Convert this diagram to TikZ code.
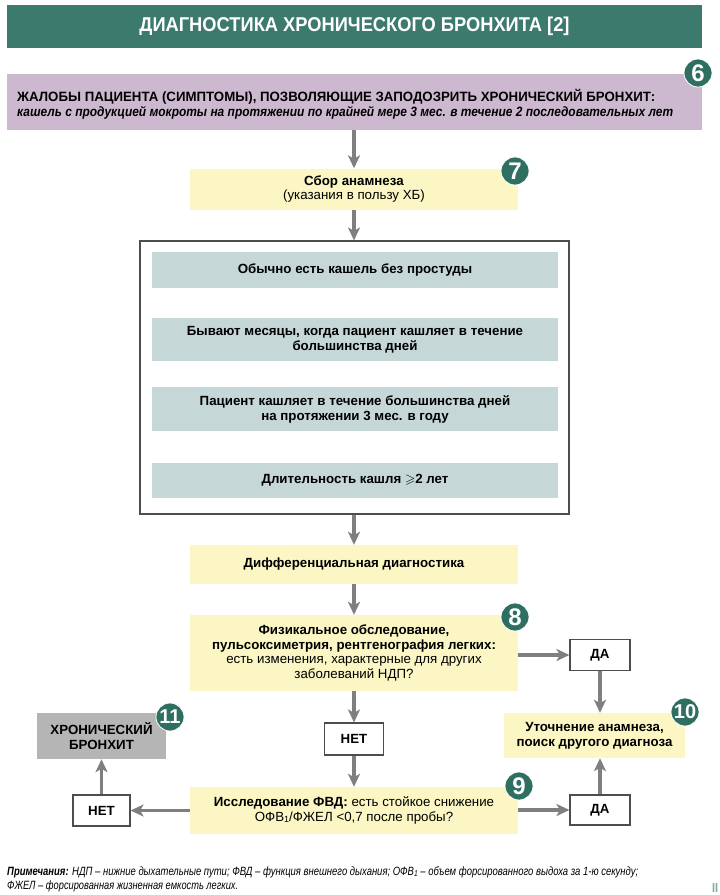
\documentclass[tikz,border=0pt]{standalone}
\usepackage{amssymb}
\usepackage{graphicx}
\usepackage{fontspec}
\setmainfont{Liberation Sans}
\usetikzlibrary{arrows.meta}
\definecolor{headteal}{HTML}{3D7A6E}
\definecolor{purp}{HTML}{CDB9CF}
\definecolor{yel}{HTML}{FBF6C3}
\definecolor{bgray}{HTML}{C6D7D8}
\definecolor{xbgray}{HTML}{B5B5B5}
\definecolor{numteal}{HTML}{2F6F62}
\definecolor{arrgray}{HTML}{7F7F7F}
\definecolor{bord}{HTML}{4D4D4D}
\definecolor{markteal}{HTML}{7FA9A0}
\newcommand\fsz[2]{\fontsize{#1pt}{#2pt}\selectfont}
\newcommand\hfit[2]{\resizebox{#1pt}{\height}{#2}}
\tikzset{
  arr/.style={draw=arrgray, line width=3.2pt, -{Stealth[length=13pt,width=12pt,inset=3.5pt]}},
  box/.style={inner sep=0pt, align=center, font=\fsz{13.3}{14.7}},
  ybox/.style={box, fill=yel},
  bbox/.style={box, fill=bgray, font=\fsz{13.3}{15}\bfseries},
  wbox/.style={box, draw=bord, line width=1.1pt, fill=white, font=\fsz{13.3}{14.7}\bfseries},
  num/.style={circle, fill=numteal, draw=white, line width=0.8pt, minimum size=28pt, inner sep=0pt, text=white, font=\fsz{24}{24}\bfseries},
  numtwo/.style={num, font=\fsz{20}{20}\bfseries},
}
\begin{document}
\begin{tikzpicture}[x=1pt, y={(0pt,-1pt)}]
\useasboundingbox (0,0) rectangle (720,895);
% header
\node[box, fill=headteal, minimum width=695pt, minimum height=43pt, text=white, font=\fsz{20}{20}\bfseries] (head) at (354.5,26.5)
  {\hfit{430}{ДИАГНОСТИКА ХРОНИЧЕСКОГО БРОНХИТА [2]}};
% purple box
\node[box, fill=purp, minimum width=695pt, minimum height=56pt] (purp) at (354.5,102) {};
\node[inner sep=0pt, anchor=west, align=left, font=\fsz{13.5}{14.5}] (purptxt) at (17,104.5)
  {\hfit{638}{\bfseries ЖАЛОБЫ ПАЦИЕНТА (СИМПТОМЫ), ПОЗВОЛЯЮЩИЕ ЗАПОДОЗРИТЬ ХРОНИЧЕСКИЙ БРОНХИТ:}\\
   \hfit{656}{\bfseries\itshape кашель с продукцией мокроты на протяжении по крайней мере 3 мес. в течение 2 последовательных лет}};
\node[num] (n6) at (698,73) {6};
% box 7
\node[ybox, minimum width=328pt, minimum height=41pt] (b7) at (354,189)
  {\textbf{Сбор анамнеза}\\(указания в пользу ХБ)};
\node[num] (n7) at (515,171) {7};
% big box
\node[box, draw=bord, line width=1.1pt, fill=white, minimum width=429pt, minimum height=273pt] (big) at (354.5,377.5) {};
\node[bbox, minimum width=406pt, minimum height=36pt] (i1) at (355,270) {Обычно есть кашель без простуды};
\node[bbox, minimum width=406pt, minimum height=43pt] (i2) at (355,339.5) {Бывают месяцы, когда пациент кашляет в течение\\большинства дней};
\node[bbox, minimum width=406pt, minimum height=44pt] (i3) at (355,409) {Пациент кашляет в течение большинства дней\\на протяжении 3 мес. в году};
\node[bbox, minimum width=406pt, minimum height=35pt] (i4) at (355,480.5) {Длительность кашля $\geqslant$2 лет};
% differential
\node[ybox, minimum width=328pt, minimum height=39pt, font=\fsz{13.3}{14.7}\bfseries] (diff) at (354,564.5) {Дифференциальная диагностика};
% box 8
\node[ybox, minimum width=328pt, minimum height=76pt] (b8) at (354,653)
  {\textbf{Физикальное обследование,}\\\textbf{пульсоксиметрия, рентгенография легких:}\\есть изменения, характерные для других\\заболеваний НДП?};
\node[num] (n8) at (515,617) {8};
% yes 1
\node[wbox, minimum width=60pt, minimum height=31pt] (da1) at (600,655) {ДА};
% box 10
\node[ybox, minimum width=181pt, minimum height=45pt, font=\fsz{13.3}{14.7}\bfseries] (b10) at (594.5,735.5) {Уточнение анамнеза,\\поиск другого диагноза};
\node[numtwo] (n10) at (685,712) {10};
% no 1
\node[wbox, minimum width=59pt, minimum height=32pt] (net1) at (354,739) {НЕТ};
% box 9
\node[ybox, minimum width=328pt, minimum height=47pt] (b9) at (354,810.5)
  {\textbf{Исследование ФВД:} есть стойкое снижение\\ОФВ\raisebox{-1pt}{\fsz{9}{9}1}/ФЖЕЛ <0,7 после пробы?};
\node[num] (n9) at (519,786) {9};
% yes 2
\node[wbox, minimum width=60pt, minimum height=30pt] (da2) at (600,810) {ДА};
% no 2
\node[wbox, minimum width=57pt, minimum height=31pt] (net2) at (101.5,810.5) {НЕТ};
% chronic bronchitis
\node[box, fill=xbgray, minimum width=129pt, minimum height=46pt, font=\fsz{13.3}{14.7}\bfseries] (xb) at (101.5,736) {ХРОНИЧЕСКИЙ\\БРОНХИТ};
\node[numtwo] (n11) at (170,717) {11};
% arrows
\draw[arr] (purp.south -| b7.north) -- (b7.north);
\draw[arr] (b7.south) -- (b7.south |- big.north);
\draw[arr] (big.south -| diff.north) -- (diff.north);
\draw[arr] (diff.south) -- (b8.north);
\draw[arr] (b8.east |- da1.west) -- (da1.west);
\draw[arr] (da1.south) -- (da1.south |- b10.north);
\draw[arr] (b8.south) -- (net1.north);
\draw[arr] (net1.south) -- (b9.north);
\draw[arr] (b9.east |- da2.west) -- (da2.west);
\draw[arr] (da2.north) -- (da2.north |- b10.south);
\draw[arr] (b9.west |- net2.east) -- (net2.east);
\draw[arr] (net2.north) -- (xb.south);
% footnote
\node[inner sep=0pt, anchor=west, align=left, font=\fsz{12}{13.5}\itshape] (foot) at (7,879.5)
  {\hfit{631}{\textbf{Примечания:} НДП – нижние дыхательные пути; ФВД – функция внешнего дыхания; ОФВ\raisebox{-1pt}{\fsz{8.5}{8.5}1} – объем форсированного выдоха за 1-ю секунду;}\\
   \hfit{231}{ФЖЕЛ – форсированная жизненная емкость легких.}};
\node[inner sep=0pt, text=markteal, font=\fsz{13}{13}\bfseries] (mark) at (715,888) {\hfit{6}{II}};
\end{tikzpicture}
\end{document}
